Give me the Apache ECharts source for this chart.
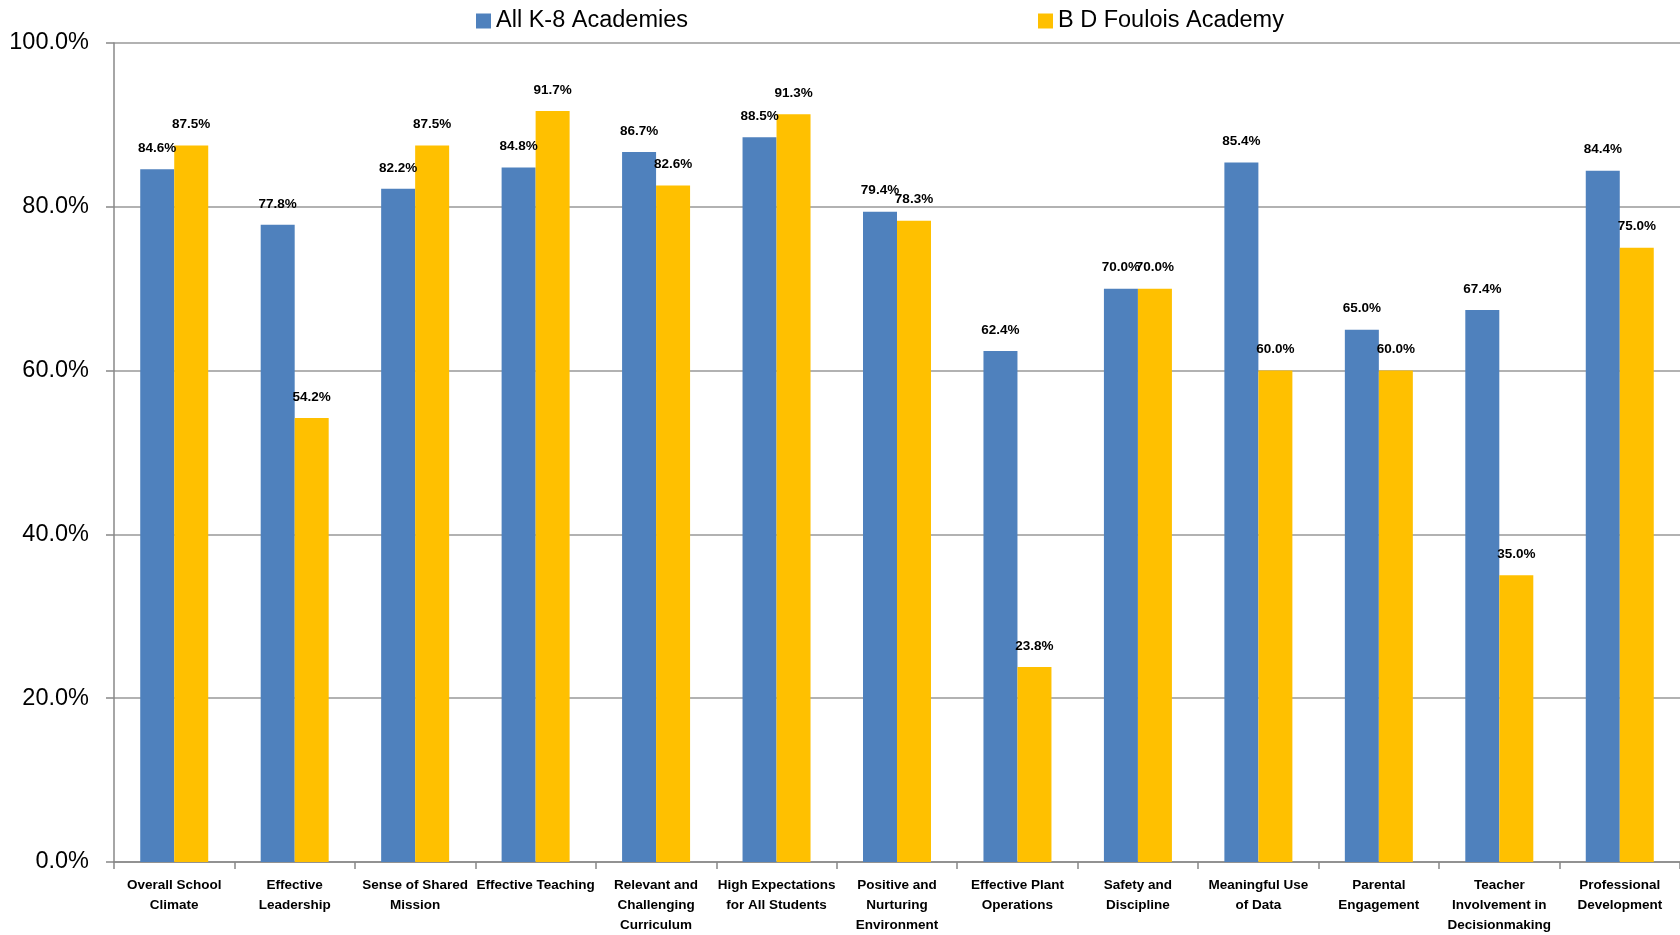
<!DOCTYPE html>
<html><head><meta charset="utf-8">
<script src="https://cdn.jsdelivr.net/npm/echarts@6/dist/echarts.min.js"></script>
<style>html,body{margin:0;padding:0;background:#fff}#c{width:1680px;height:935px}</style>
</head><body><div id="c"></div>
<script>
const categories = ["Overall School\nClimate","Effective\nLeadership","Sense of Shared\nMission","Effective Teaching","Relevant and\nChallenging\nCurriculum","High Expectations\nfor All Students","Positive and\nNurturing\nEnvironment","Effective Plant\nOperations","Safety and\nDiscipline","Meaningful Use\nof Data","Parental\nEngagement","Teacher\nInvolvement in\nDecisionmaking","Professional\nDevelopment"];
const seriesNames = ["All K-8 Academies","B D Foulois Academy"];
const allK8 = [84.6,77.8,82.2,84.8,86.7,88.5,79.4,62.4,70.0,85.4,65.0,67.4,84.4];
const foulois = [87.5,54.2,87.5,91.7,82.6,91.3,78.3,23.8,70.0,60.0,60.0,35.0,75.0];
const yTicks = [0,20,40,60,80,100];

const chart = echarts.init(document.getElementById('c'));
const lbl = {show:true, position:'top', distance:14, fontFamily:'Liberation Sans, Arial', fontWeight:'bold', fontSize:13.5, color:'#000', formatter: p => p.value.toFixed(1)+'%'};
chart.setOption({
  animation:false,
  legend:{top:4, left:471, itemGap:350, itemWidth:15, itemHeight:15, icon:'rect',
    textStyle:{fontFamily:'Liberation Sans, Arial', fontSize:23.5, color:'#000'},
    data:seriesNames},
  grid:{left:114, right:0, top:43, bottom:73, containLabel:false},
  xAxis:{type:'category', data:categories,
    axisLine:{lineStyle:{color:'#888', width:1.5}},
    axisTick:{show:true, length:7, lineStyle:{color:'#888', width:1.5}},
    axisLabel:{interval:0, margin:13, fontFamily:'Liberation Sans, Arial', fontWeight:'bold', fontSize:13.5, lineHeight:20, color:'#000'}},
  yAxis:{type:'value', min:0, max:100, interval:20,
    axisLine:{show:true, lineStyle:{color:'#888', width:1.5}},
    axisTick:{show:true, length:8, lineStyle:{color:'#888', width:1.5}},
    splitLine:{lineStyle:{color:'#999', width:1.5}},
    axisLabel:{margin:25, fontFamily:'Liberation Sans, Arial', fontSize:23.5, color:'#000', formatter: v => v.toFixed(1)+'%'}},
  series:[
    {name:seriesNames[0], type:'bar', data:allK8, barWidth:34, barGap:'0%', itemStyle:{color:'#4F81BD'}, label:lbl},
    {name:seriesNames[1], type:'bar', data:foulois, barWidth:34, barGap:'0%', itemStyle:{color:'#FFC000'}, label:lbl}
  ]
});
</script></body></html>
